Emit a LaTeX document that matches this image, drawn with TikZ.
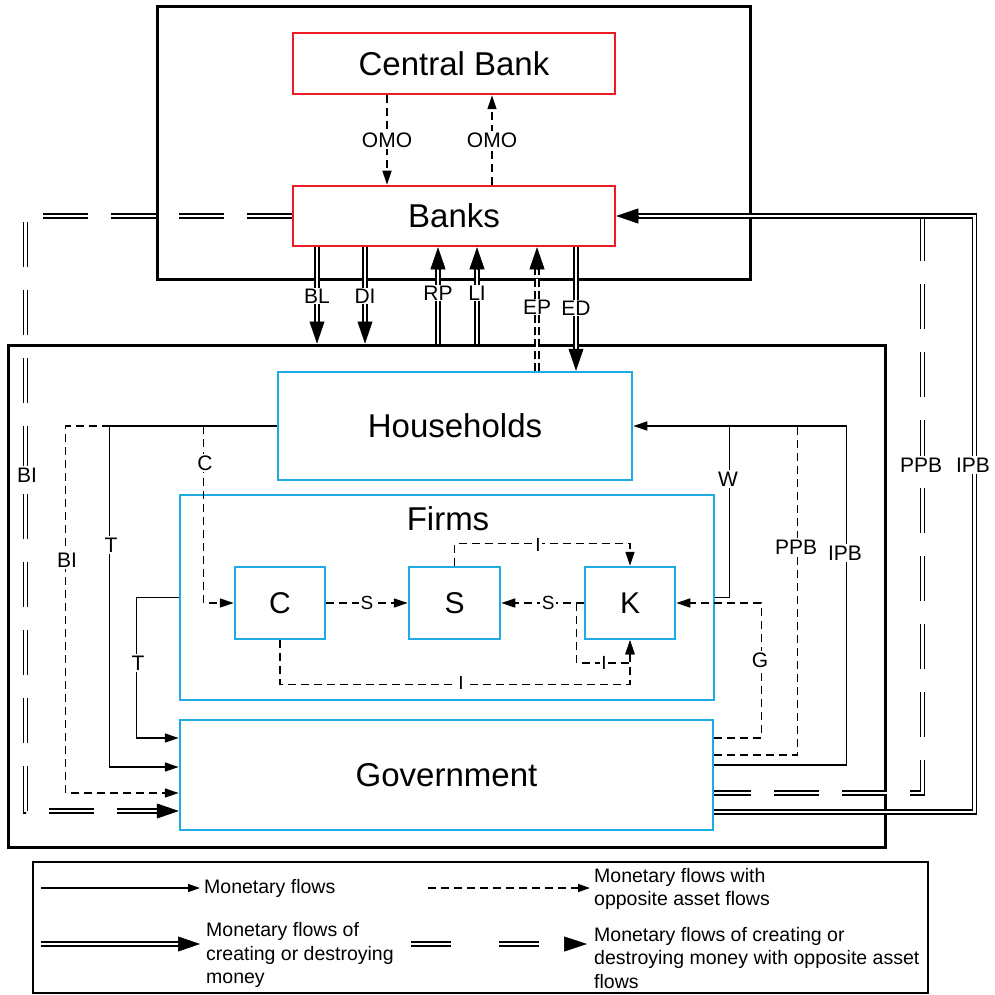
\documentclass[tikz,border=0pt]{standalone}
\usepackage{fontspec}
\setmainfont{Liberation Sans}
\usetikzlibrary{arrows.meta,calc}
\definecolor{cbblue}{RGB}{30,170,226}
\definecolor{cbred}{RGB}{237,28,36}
\newcommand\bigfnt{\fontsize{33}{40}\selectfont}
\newcommand\midfnt{\fontsize{30}{36}\selectfont}
\newcommand\lblfnt{\fontsize{21}{25}\selectfont}
\newcommand\smlfnt{\fontsize{19}{23}\selectfont}
\newcommand\legfnt{\fontsize{19.5}{23.5}\selectfont}
\tikzset{
  bigbox/.style={draw=black, line width=3pt, inner sep=0pt},
  redbox/.style={draw=cbred, line width=2.5pt, minimum width=322pt, minimum height=61pt, font=\bigfnt, inner sep=0pt},
  bluebox/.style={draw=cbblue, line width=2.5pt, inner sep=0pt},
  mline/.style={line width=1.4pt},
  mflow/.style={mline, -{Triangle[length=14pt,width=9pt]}},
  dline/.style={line width=1.4pt, dash pattern=on 8pt off 5pt},
  dflow/.style={dline, -{Triangle[length=14pt,width=9pt]}},
  dbl/.style={double, line width=1.4pt, double distance=2.6pt},
  dbldash/.style={dbl, dash pattern=on 45pt off 23pt},
  dblshort/.style={dbl, dash pattern=on 8pt off 4pt},
  bigtip/.style={line width=0.5pt, -{Triangle[length=22pt,width=15pt]}},
  lbl/.style={fill=white, inner sep=1.5pt, font=\lblfnt},
  slbl/.style={fill=white, inner sep=1.5pt, font=\smlfnt},
  legtxt/.style={anchor=west, align=left, inner sep=0pt, font=\legfnt}
}
\newcommand\dtip[2]{\draw[bigtip] ($(#2)!22pt!(#1)$) -- (#2);}
\begin{document}
\begin{tikzpicture}[x=1pt,y=-1pt]
\useasboundingbox (0,0) rectangle (994,995);

% frames
\node[bigbox, minimum width=593pt, minimum height=272pt] (topbox) at (453.5,143) {};
\node[bigbox, minimum width=877pt, minimum height=502pt] (lowbox) at (446.5,596) {};

% sectors
\node[redbox] (cb) at (454,63.5) {Central Bank};
\node[redbox, minimum height=60pt] (banks) at (454,216) {Banks};
\node[bluebox, minimum width=354pt, minimum height=108pt, font=\bigfnt] (hh) at (455,426) {Households};
\node[bluebox, minimum width=534pt, minimum height=205pt] (firms) at (447,597.5) {};
\node[font=\bigfnt] (firmslbl) at (448,519) {Firms};
\node[bluebox, minimum width=90pt, minimum height=72pt, font=\midfnt] (cbox) at (280,603) {C};
\node[bluebox, minimum width=91pt, minimum height=72pt, font=\midfnt] (sbox) at (454.5,603) {S};
\node[bluebox, minimum width=90pt, minimum height=72pt, font=\midfnt] (kbox) at (630,603) {K};
\node[bluebox, minimum width=533pt, minimum height=110pt, font=\bigfnt] (gov) at (446.5,775) {Government};

% OMO
\draw[dflow] ([xshift=-67pt]cb.south) -- node[lbl]{OMO} ([xshift=-67pt]banks.north);
\draw[dflow] ([xshift=38pt]banks.north) -- node[lbl]{OMO} ([xshift=38pt]cb.south);

% banks <-> private sector
\coordinate (blx) at ([xshift=-137pt]banks.south);
\coordinate (dix) at ([xshift=-89pt]banks.south);
\coordinate (rpx) at ([xshift=-16pt]banks.south);
\coordinate (lix) at ([xshift=23pt]banks.south);
\coordinate (epx) at ([xshift=83pt]banks.south);
\coordinate (edx) at ([xshift=122pt]banks.south);
\coordinate (ble) at (blx |- lowbox.north);
\coordinate (die) at (dix |- lowbox.north);
\coordinate (rpe) at (rpx |- lowbox.north);
\coordinate (lie) at (lix |- lowbox.north);
\coordinate (epe) at (epx |- hh.north);
\coordinate (ede) at (edx |- hh.north);
\draw[dbl, shorten >=16pt] (blx) -- (ble); \dtip{blx}{ble}
\draw[dbl, shorten >=16pt] (dix) -- (die); \dtip{dix}{die}
\draw[dbl, shorten >=16pt] (rpe) -- (rpx); \dtip{rpe}{rpx}
\draw[dbl, shorten >=16pt] (lie) -- (lix); \dtip{lie}{lix}
\draw[dblshort, shorten >=16pt] (epe) -- (epx); \dtip{epe}{epx}
\draw[dbl, shorten >=16pt] (edx) -- (ede); \dtip{edx}{ede}
\node[lbl, inner sep=1pt] at (317,296) {BL};
\node[lbl, inner sep=1pt] at (365,296) {DI};
\node[lbl, inner sep=1pt] at (438,293) {RP};
\node[lbl, inner sep=1pt] at (477,293) {LI};
\node[lbl, inner sep=1pt] at (537,307) {EP};
\node[lbl, inner sep=1pt] at (576,308) {ED};

% outer BI
\coordinate (biA) at ([yshift=-36pt]gov.west);
\coordinate (biC) at ($(biA)+(-153,0)$);
\draw[dbldash, shorten >=16pt] (banks.west) -| (biC) -- (biA);
\dtip{biC}{biA}
\node[lbl] at (27,475) {BI};

% outer PPB / IPB
\coordinate (ppbA) at ([yshift=-18pt]gov.east);
\coordinate (ppbC) at ([xshift=306pt]banks.east);
\draw[dbldash] (ppbC) |- (ppbA);
\coordinate (ipbA) at ([yshift=-37pt]gov.east);
\coordinate (ipbC) at ([xshift=358pt]banks.east);
\draw[dbl, shorten >=16pt] (ipbA) -| (ipbC) -- (banks.east);
\dtip{ipbC}{banks.east}
\node[lbl] at (921,465) {PPB};
\node[lbl] at (973,465) {IPB};

% households left side
\coordinate (tj) at ([xshift=-167pt]hh.west);
\coordinate (gT1) at ([yshift=8pt]gov.west);
\coordinate (gBI) at ([yshift=-18pt]gov.west);
\coordinate (cj) at ([xshift=-73pt]hh.west);
\coordinate (gT2) at ([yshift=37pt]gov.west);
\draw[dflow] (tj) -- ++(-44,0) |- (gBI);
\draw[mflow] (hh.west) -- (tj) |- (gT1);
\draw[dflow] (cj) |- (cbox.west);
\draw[mflow] (firms.west) -- ++(-42,0) |- (gT2);
\node[lbl] at (111,545) {T};
\node[lbl] at (67,560) {BI};
\node[lbl] at (205,463) {C};
\node[lbl] at (138,663) {T};

% households right side
\coordinate (gIPB) at ([yshift=10pt]gov.east);
\coordinate (gPPB) at ([yshift=20pt]gov.east);
\coordinate (gG) at ([yshift=37pt]gov.east);
\draw[mline] (gIPB) -| ([xshift=213pt]hh.east) -- ([xshift=96pt]hh.east);
\draw[dline] (gPPB) -| ([xshift=164pt]hh.east);
\draw[mflow] (firms.east) -- ++(14,0) |- (hh.east);
\draw[dflow] (gG) -| ([xshift=85pt]kbox.east) -- (kbox.east);
\node[lbl] at (728,479) {W};
\node[lbl] at (796,547) {PPB};
\node[lbl] at (845,553) {IPB};
\node[lbl] at (760,660) {G};

% firms internal
\draw[dflow] (cbox.east) -- node[slbl]{S} (sbox.west);
\draw[dflow] (kbox.west) -- node[slbl, pos=0.43]{S} (sbox.east);
\draw[dflow] (sbox.north) -- ++(0,-22) -| (kbox.north);
\draw[dflow] (cbox.south) -- ++(0,44) -| (kbox.south);
\draw[dflow] ([xshift=-7pt]kbox.west) -- ++(0,60) -| (kbox.south);
\node[slbl] at (538,545) {I};
\node[slbl] at (461,683) {I};
\node[slbl] at (604,663) {I};

% legend
\node[draw, line width=1.8pt, minimum width=895pt, minimum height=131pt, inner sep=0pt] (legend) at (480.5,927.5) {};
\coordinate (l1a) at (41,888); \coordinate (l1b) at (200,888);
\coordinate (l2a) at (428,888); \coordinate (l2b) at (590,888);
\coordinate (l3a) at (41,944); \coordinate (l3b) at (200,944);
\coordinate (l4a) at (411,944); \coordinate (l4b) at (545,944);
\coordinate (l4c) at (564,944); \coordinate (l4d) at (587,944);
\draw[mline, -{Triangle[length=12pt,width=8pt]}] (l1a) -- (l1b);
\draw[dline, -{Triangle[length=12pt,width=8pt]}] (l2a) -- (l2b);
\draw[dbl, shorten >=16pt] (l3a) -- (l3b); \dtip{l3a}{l3b}
\draw[dbl, dash pattern=on 40pt off 48pt] (l4a) -- (l4b);
\draw[line width=0.5pt, -{Triangle[length=23pt,width=15pt]}] (l4c) -- (l4d);
\node[legtxt] (t1) at (204,888) {Monetary flows};
\node[legtxt] (t2) at (594,889) {Monetary flows with\\opposite asset flows};
\node[legtxt] (t3) at (206,955) {Monetary flows of\\creating or destroying\\money};
\node[legtxt] (t4) at (594,958) {Monetary flows of creating or\\destroying money with opposite asset\\flows};
\end{tikzpicture}
\end{document}
